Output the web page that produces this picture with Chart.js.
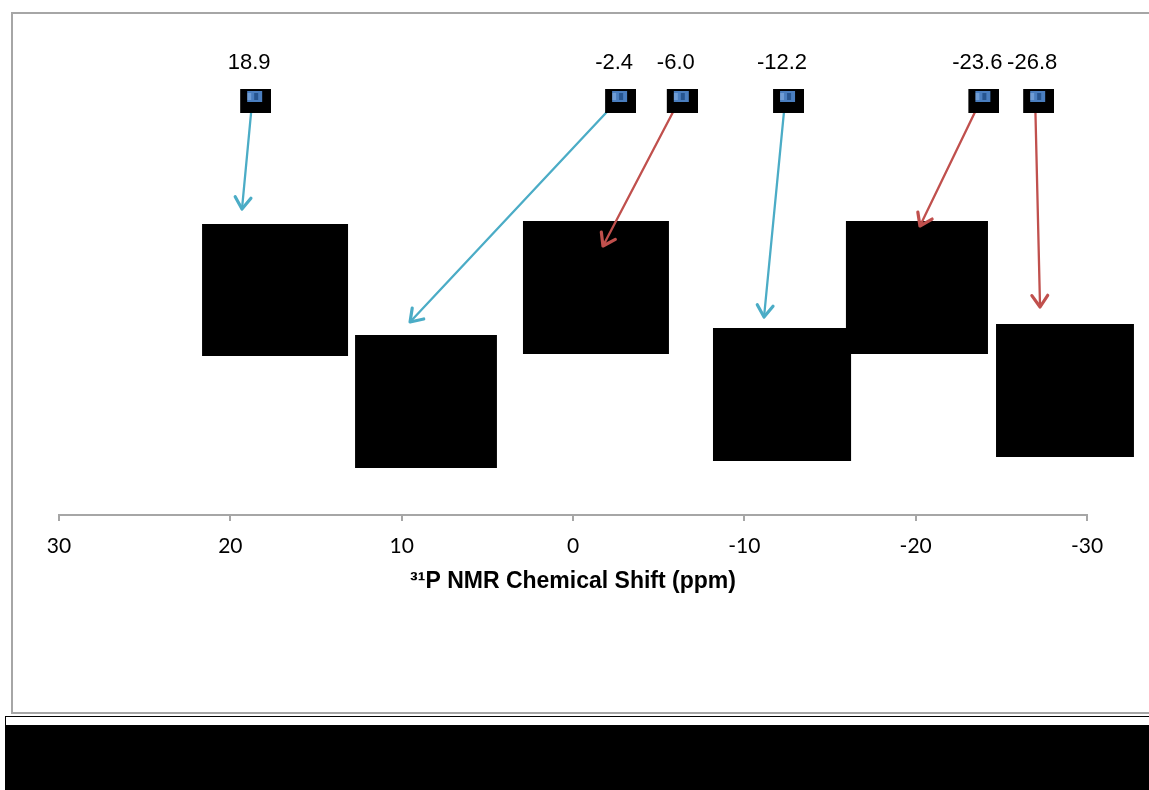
<!DOCTYPE html>
<html>
<head>
<meta charset="utf-8">
<script src="https://cdn.jsdelivr.net/npm/chart.js@4.4.1/dist/chart.umd.min.js"></script>
<style>
  html, body { margin: 0; padding: 0; background: #fff; overflow: hidden; width: 1149px; height: 790px; }
  #frame { position: absolute; left: 11px; top: 12px; width: 1200px; height: 698px; border: 2px solid #a6a6a6; }
  #redact { position: absolute; left: 5px; top: 716px; width: 1200px; height: 100px; border: 1px solid #000; background: #fff; }
  #redact div { position: absolute; left: 0; right: 0; top: 8px; bottom: 0; background: #000; }
  #grafico { position: absolute; left: 0; top: 0; }
</style>
</head>
<body>
<div id="frame"></div>
<div id="redact"><div></div></div>
<canvas id="grafico" width="1149" height="790"></canvas>
<script>
// valores
const shifts = [18.9, -2.4, -6.0, -12.2, -23.6, -26.8];
const shiftLabels = ['18.9', '-2.4', '-6.0', '-12.2', '-23.6', '-26.8'];
const arrowGroup = ['azul', 'azul', 'vermelho', 'azul', 'vermelho', 'vermelho'];
const xTicks = [30, 20, 10, 0, -10, -20, -30];
const xTitle = '³¹P NMR Chemical Shift (ppm)';

// onde ficam as caixas pretas (estruturas) e a ponta de cada seta, em unidades do gráfico
const estruturas = [
  { x: [21.65, 13.13], y: [58.2, 31.8], tip: [19.32, 61.2] },
  { x: [12.72, 4.44], y: [36.0, 9.4], tip: [9.51, 38.6] },
  { x: [2.92, -5.60], y: [58.8, 32.2], tip: [-1.75, 53.8] },
  { x: [-8.17, -16.23], y: [37.4, 10.8], tip: [-11.15, 39.6] },
  { x: [-15.93, -24.22], y: [58.8, 32.2], tip: [-20.25, 57.8] },
  { x: [-24.69, -32.74], y: [38.2, 11.6], tip: [-27.26, 41.6] }
];
const markerLevel = 82.8;

const cores = { azul: '#4bacc6', vermelho: '#c0504d' };

// marcador: quadradinho preto com ícone azul
function criarMarcador() {
  const c = document.createElement('canvas');
  c.width = 44; c.height = 24;
  const g = c.getContext('2d');
  g.fillStyle = '#000';
  g.fillRect(13, 0, 31, 24);
  g.fillStyle = '#4a7ebf';
  g.fillRect(20, 2, 15, 11);
  g.fillStyle = '#6f9dd6';
  g.fillRect(20, 4, 4, 7);
  g.fillStyle = '#27558f';
  g.fillRect(27, 4, 4, 7);
  return c;
}

function seta(ctx, x0, y0, x1, y1, cor) {
  const a = Math.atan2(y1 - y0, x1 - x0);
  const len = 14, abertura = 0.6;
  ctx.save();
  ctx.strokeStyle = cor;
  ctx.lineWidth = 2.3;
  ctx.lineCap = 'round';
  ctx.lineJoin = 'round';
  ctx.beginPath();
  ctx.moveTo(x0, y0);
  ctx.lineTo(x1, y1);
  ctx.stroke();
  ctx.lineWidth = 3.2;
  ctx.beginPath();
  ctx.moveTo(x1 - len * Math.cos(a - abertura), y1 - len * Math.sin(a - abertura));
  ctx.lineTo(x1, y1);
  ctx.lineTo(x1 - len * Math.cos(a + abertura), y1 - len * Math.sin(a + abertura));
  ctx.stroke();
  ctx.restore();
}

const anotacoes = {
  id: 'anotacoes',
  beforeDatasetsDraw(chart) {
    const { ctx, scales: { x, y } } = chart;
    ctx.save();
    ctx.fillStyle = '#000';
    estruturas.forEach(e => {
      const l = x.getPixelForValue(e.x[0]), r = x.getPixelForValue(e.x[1]);
      const t = y.getPixelForValue(e.y[0]), b = y.getPixelForValue(e.y[1]);
      ctx.fillRect(l, t, r - l, b - t);
    });
    ctx.restore();
    shifts.forEach((s, i) => {
      const e = estruturas[i];
      seta(ctx,
        x.getPixelForValue(s) + 3, y.getPixelForValue(markerLevel),
        x.getPixelForValue(e.tip[0]), y.getPixelForValue(e.tip[1]),
        cores[arrowGroup[i]]);
    });
  },
  afterDatasetsDraw(chart) {
    const { ctx, scales: { x, y } } = chart;
    ctx.save();
    ctx.fillStyle = '#000';
    ctx.font = '22px "Liberation Sans", Arial, sans-serif';
    ctx.textAlign = 'center';
    ctx.textBaseline = 'middle';
    shifts.forEach((s, i) => {
      ctx.fillText(shiftLabels[i], x.getPixelForValue(s), y.getPixelForValue(markerLevel) - 38);
    });
    ctx.restore();
  }
};

const ctx = document.getElementById('grafico').getContext('2d');
const meuGrafico = new Chart(ctx, {
  type: 'scatter',
  data: {
    datasets: [{
      data: shifts.map(s => ({ x: s, y: markerLevel })),
      pointStyle: criarMarcador(),
      pointRadius: 12,
      pointHoverRadius: 12
    }]
  },
  options: {
    responsive: false,
    animation: false,
    events: [],
    layout: { padding: { left: 59, right: 62, top: 15, bottom: 0 } },
    plugins: { legend: { display: false }, tooltip: { enabled: false } },
    scales: {
      x: {
        type: 'linear',
        min: -30,
        max: 30,
        reverse: true,
        afterBuildTicks: s => { s.ticks = xTicks.map(v => ({ value: v })); },
        afterFit: s => { s.height = 275; },
        grid: { drawOnChartArea: false, drawTicks: true, tickLength: 6, color: '#a6a6a6', lineWidth: 2 },
        border: { display: true, color: '#a6a6a6', width: 2 },
        ticks: {
          color: '#000',
          padding: 13,
          maxRotation: 0,
          font: { family: 'Lato', size: 21 },
          callback: v => String(v)
        },
        title: {
          display: true,
          text: xTitle,
          color: '#000',
          font: { family: '"Liberation Sans", Arial', size: 23, weight: 'bold' },
          padding: { top: 0, bottom: 195 }
        }
      },
      y: { display: false, min: 0, max: 100 }
    }
  },
  plugins: [anotacoes]
});
</script>
</body>
</html>
